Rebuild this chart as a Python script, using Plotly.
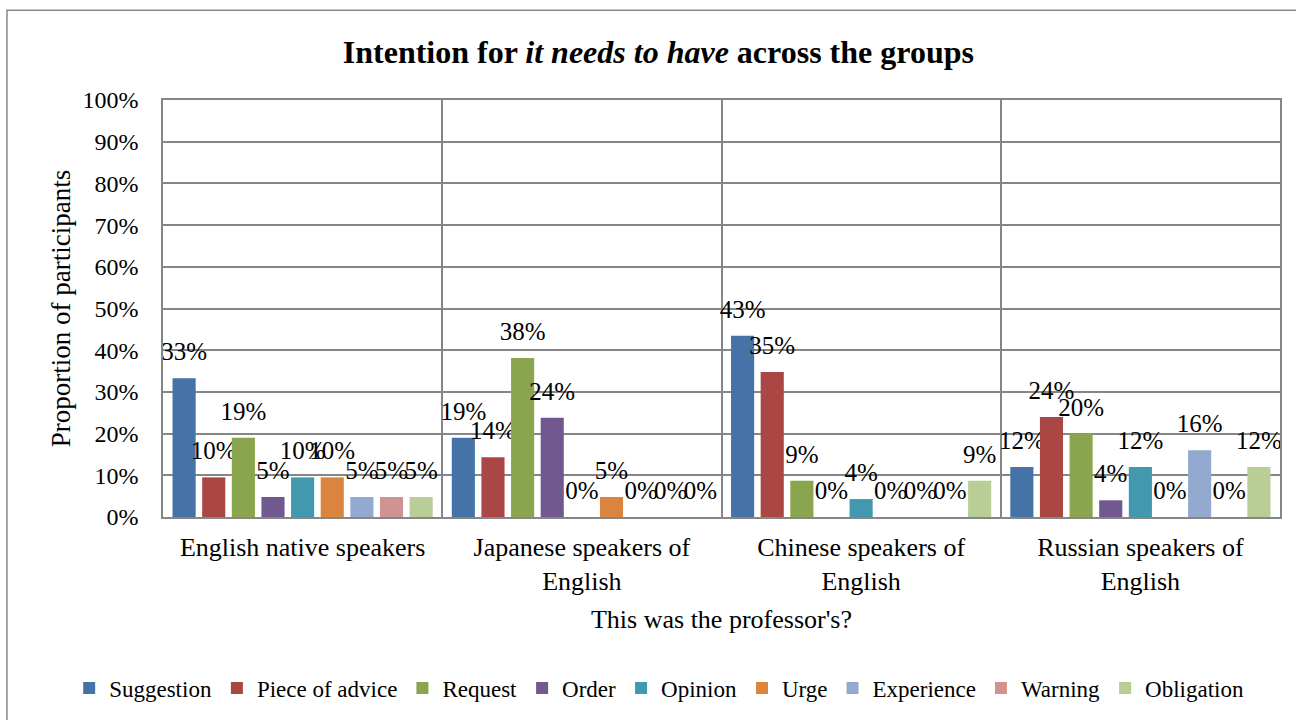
import plotly.graph_objects as go

groups = ["English native speakers", "Japanese speakers of<br>English",
          "Chinese speakers of<br>English", "Russian speakers of<br>English"]

suggestion = [0.333, 0.190, 0.4348, 0.12]
piece_of_advice = [0.095, 0.143, 0.348, 0.24]
request = [0.190, 0.381, 0.087, 0.20]
order = [0.048, 0.238, 0.0, 0.04]
opinion = [0.095, 0.0, 0.043, 0.12]
urge = [0.095, 0.048, 0.0, 0.0]
experience = [0.048, 0.0, 0.0, 0.16]
warning = [0.048, 0.0, 0.0, 0.0]
obligation = [0.048, 0.0, 0.087, 0.12]

series = [
    ("Suggestion", suggestion, "#4573A7"),
    ("Piece of advice", piece_of_advice, "#AA4643"),
    ("Request", request, "#89A54E"),
    ("Order", order, "#71588F"),
    ("Opinion", opinion, "#4198AF"),
    ("Urge", urge, "#DB843D"),
    ("Experience", experience, "#93A9CF"),
    ("Warning", warning, "#D19392"),
    ("Obligation", obligation, "#B9CD96"),
]

font = "Liberation Serif"
grid = "#868686"

fig = go.Figure()
for name, vals, color in series:
    # small second line lifts the label off the bar top like Excel's outside-end labels
    labels = [f"<span style='font-size:25px'>{v:.0%}</span><br>\u00a0" for v in vals]
    fig.add_trace(go.Bar(
        x=groups, y=vals, name=name,
        marker=dict(color=color, line=dict(width=0)),
        text=labels,
        textposition="outside",
        constraintext="none",
        cliponaxis=False,
        textfont=dict(family=font, size=10, color="black"),
    ))

fig.update_layout(
    width=1296, height=720,
    barmode="group", bargap=0.045, bargroupgap=0.22,
    paper_bgcolor="white", plot_bgcolor="white",
    margin=dict(l=163, r=16, t=100, b=202),
    font=dict(family=font, size=24, color="black"),
    title=dict(
        text="<b>Intention for <i>it needs to have</i> across the groups</b>",
        font=dict(family=font, size=32, color="black"),
        x=0.508, xref="container", xanchor="center",
        y=0.928, yref="container", yanchor="middle",
    ),
    legend=dict(
        orientation="h", x=-0.084, xanchor="left",
        y=-0.407, yanchor="middle",
        font=dict(family=font, size=23, color="black"),
        tracegroupgap=0,
    ),
    showlegend=True,
    xaxis=dict(
        tickson="boundaries", showgrid=True, gridcolor=grid, gridwidth=1.5,
        showline=True, linecolor=grid, linewidth=1.5, mirror=True,
        ticks="", tickfont=dict(family=font, size=26), automargin=False,
        ticklabelstandoff=6,
        title=dict(text="This was the professor's?", font=dict(family=font, size=26), standoff=15),
    ),
    yaxis=dict(
        range=[0, 1], dtick=0.1, tickformat=".0%",
        showgrid=True, gridcolor=grid, gridwidth=1.5,
        showline=True, linecolor=grid, linewidth=1.5, mirror=True,
        ticks="", tickfont=dict(family=font, size=24), zeroline=False,
        ticklabelstandoff=18, automargin=False,
        title=dict(text="Proportion of participants", font=dict(family=font, size=27), standoff=4),
    ),
    shapes=[dict(
        type="rect", xref="paper", yref="paper",
        x0=-0.1397, x1=1.3, y0=-0.8, y1=1.215,
        line=dict(color=grid, width=1.5), fillcolor="rgba(0,0,0,0)", layer="below",
    )],
)

fig.write_html("out.html", config={"displayModeBar": False},
               post_script="document.body.style.margin='0';")
